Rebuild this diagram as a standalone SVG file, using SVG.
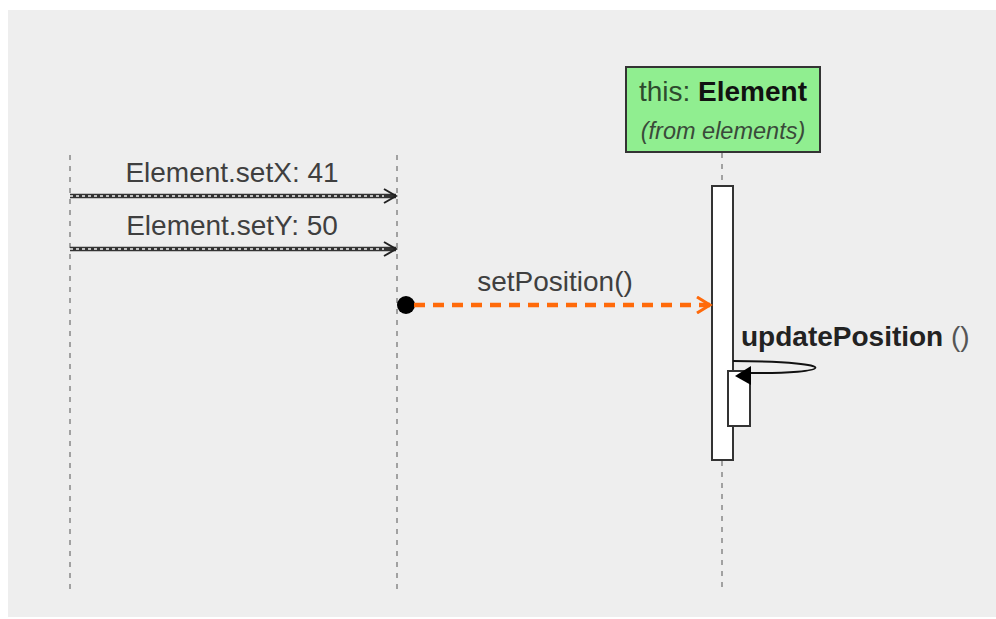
<svg xmlns="http://www.w3.org/2000/svg" width="996" height="619" viewBox="0 0 996 619">
<defs>
<style>
.lbl{font-family:"Liberation Sans",Arial,sans-serif;font-size:28px;fill:#3f3f3f}
.life{stroke:#888;stroke-width:1.5;stroke-dasharray:5 6;fill:none}
.act{fill:#fff;stroke:#333;stroke-width:2}
</style>
<marker id="openBlk" markerWidth="16" markerHeight="16" refX="13" refY="8" orient="auto" markerUnits="userSpaceOnUse">
<path d="M1,1 L13,8 L1,15" fill="none" stroke="#222" stroke-width="2"/>
</marker>
<marker id="openOr" markerWidth="18" markerHeight="18" refX="14" refY="9" orient="auto" markerUnits="userSpaceOnUse">
<path d="M1,1 L14,9 L1,17" fill="none" stroke="#ff6a0a" stroke-width="3"/>
</marker>
</defs>
<rect x="0" y="0" width="996" height="619" fill="#ffffff"/>
<rect x="8" y="10" width="988" height="607" fill="#eeeeee"/>
<g id="lifelines">
<line class="life" x1="70" y1="155" x2="70" y2="590"/>
<line class="life" x1="397" y1="155" x2="397" y2="590"/>
<line class="life" x1="722" y1="153" x2="722" y2="590"/>
</g>
<g id="element">
<rect x="626" y="67" width="194" height="85" fill="#90ee90" stroke="#333" stroke-width="2"/>
<text x="723" y="101" text-anchor="middle" font-family="Liberation Sans,Arial,sans-serif" font-size="28" fill="#222"><tspan fill="#2e4a2e">this: </tspan><tspan font-weight="bold" fill="#111">Element</tspan></text>
<text x="723" y="139" text-anchor="middle" font-family="Liberation Sans,Arial,sans-serif" font-size="23.5" font-style="italic" fill="#3a4a3a">(from elements)</text>
</g>
<g id="activation">
<rect class="act" x="712" y="186" width="21" height="274"/>
<rect class="act" x="728" y="371" width="22" height="55"/>
</g>
<g id="connectors">
<line x1="70" y1="196" x2="396" y2="196" stroke="#333" stroke-width="4.5" marker-end="url(#openBlk)"/>
<line x1="70" y1="196" x2="384" y2="196" stroke="#eeeeee" stroke-width="1.3" stroke-dasharray="3 3"/>
<line x1="70" y1="249" x2="396" y2="249" stroke="#333" stroke-width="4.5" marker-end="url(#openBlk)"/>
<line x1="70" y1="249" x2="384" y2="249" stroke="#eeeeee" stroke-width="1.3" stroke-dasharray="3 3"/>
<circle cx="406" cy="305" r="9" fill="#000"/>
<line x1="414" y1="305" x2="710" y2="305" stroke="#ff6a0a" stroke-width="4.5" stroke-dasharray="11 8" marker-end="url(#openOr)"/>
<path d="M733,361 C850,362 830,374 750,373" fill="none" stroke="#111" stroke-width="2"/>
<path d="M735,376 L751,366 L751,385 Z" fill="#000"/>
</g>
<g id="labels">
<text class="lbl" x="232" y="182" text-anchor="middle">Element.setX: 41</text>
<text class="lbl" x="232" y="235" text-anchor="middle">Element.setY: 50</text>
<text class="lbl" x="555" y="291" text-anchor="middle">setPosition()</text>
<text class="lbl" x="741" y="346"><tspan font-weight="bold" fill="#222">updatePosition</tspan><tspan fill="#555"> ()</tspan></text>
</g>
</svg>
